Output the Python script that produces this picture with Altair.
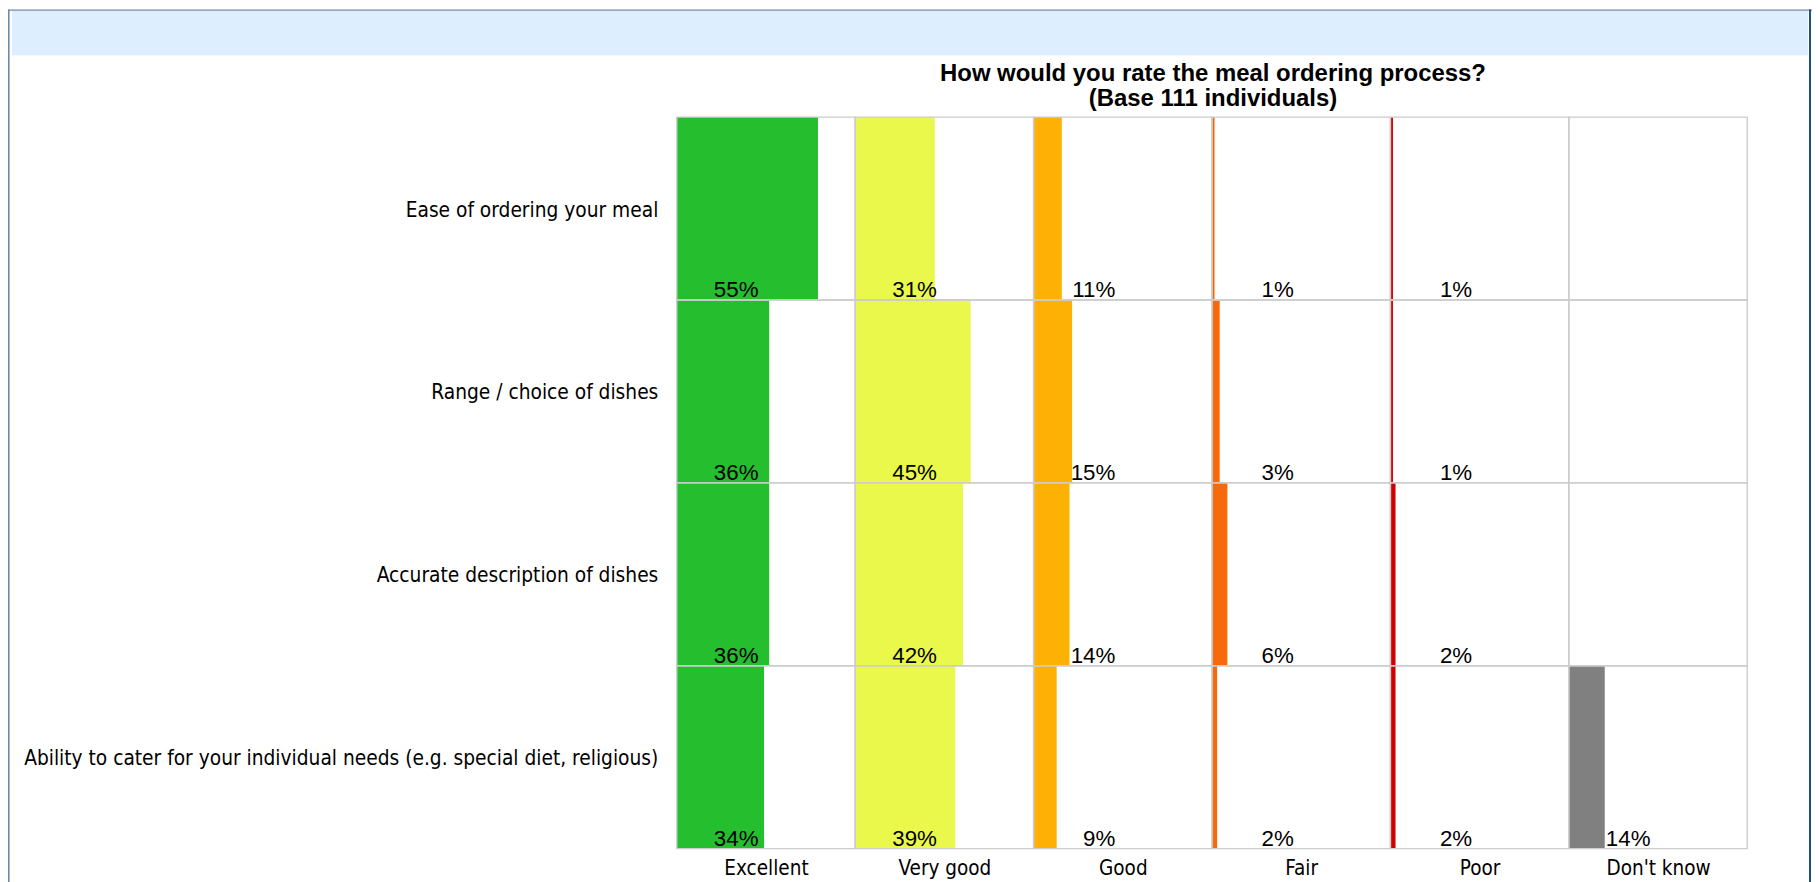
import altair as alt
import pandas as pd

# ---- data ----
ratings = ["Excellent", "Very good", "Good", "Fair", "Poor", "Don't know"]
items = [
    "Ease of ordering your meal",
    "Range / choice of dishes",
    "Accurate description of dishes",
    "Ability to cater for your individual needs (e.g. special diet, religious)",
]
excellent = [55, 36, 36, 34]
very_good = [31, 45, 42, 39]
good = [11, 15, 14, 9]
fair = [1, 3, 6, 2]
poor = [1, 1, 2, 2]
dont_know = [None, None, None, 14]
series = [excellent, very_good, good, fair, poor, dont_know]
colors = ["#24BE2E", "#E9F84A", "#FDB104", "#F8690A", "#D00000", "#808080"]

title_lines = ["How would you rate the meal ordering process?", "(Base 111 individuals)"]

# ---- layout constants ----
COL_MAX = 69.5          # value span of each rating column
PLOT_W, PLOT_H = 1074, 734
SHIFT = 2
PAD = {"left": 669 + SHIFT, "top": 108, "right": 67 - SHIFT, "bottom": 32}

rows = []
for ci, (r, vals) in enumerate(zip(ratings, series)):
    for item, v in zip(items, vals):
        rows.append({"item": item, "rating": r, "col": ci, "value": v,
                     "x0": ci * COL_MAX, "x1": ci * COL_MAX + (v if v is not None else 0),
                     "xend": (ci + 1) * COL_MAX})
df = pd.DataFrame(rows)
bars = df[df["value"].notna()].copy()
bars["label"] = bars["value"].astype(int).astype(str) + "%"

x_scale = alt.Scale(domain=[0, COL_MAX * len(ratings)], nice=False, zero=True)
y_scale = alt.Scale(domain=items, paddingInner=0, paddingOuter=0)

label_expr = "[" + ",".join("'" + r.replace("'", "\\'") + "'" for r in ratings) + "]" \
    + f"[round((datum.value - {COL_MAX/2}) / {COL_MAX})]"

x_axis = alt.Axis(values=[i * COL_MAX + COL_MAX / 2 for i in range(len(ratings))],
                  labelExpr=label_expr, title=None, grid=False, ticks=False, domain=False,
                  labelFont="DejaVu Sans Condensed", labelFontSize=20.6, labelColor="#000000",
                  labelBaseline="middle", labelPadding=20, labelFlush=False)
y_axis = alt.Axis(title=None, grid=False, ticks=False, domain=False,
                  labelFont="DejaVu Sans Condensed", labelFontSize=20.8, labelColor="#000000",
                  labelPadding=19, labelLimit=0, labelOffset=2)

base = alt.Chart(bars)

bar_layer = base.mark_rect().encode(
    x=alt.X("x0:Q", scale=x_scale, axis=x_axis),
    x2="x1:Q",
    y=alt.Y("item:N", scale=y_scale, axis=y_axis, sort=items),
    color=alt.Color("rating:N", scale=alt.Scale(domain=ratings, range=colors), legend=None),
)

grid_layer = alt.Chart(df).mark_rect(fillOpacity=0, stroke="#CCCCCC", strokeWidth=1.4).encode(
    x=alt.X("x0:Q", scale=x_scale),
    x2="xend:Q",
    y=alt.Y("item:N", scale=y_scale, sort=items),
)

text_layer = base.mark_text(align="right", baseline="alphabetic", dx=82, dy=-3,
                            font="Liberation Sans", fontSize=22.4, color="#000000").encode(
    x=alt.X("x0:Q", scale=x_scale),
    y=alt.Y("item:N", scale=y_scale, sort=items, bandPosition=1),
    text="label:N",
)

one = pd.DataFrame({"k": [0]})
# page-frame decorations (positions relative to plot origin)
band = alt.Chart(one).mark_rect(color="#DDEEFF").encode(
    x=alt.value(-665 - SHIFT), x2=alt.value(1137 - SHIFT), y=alt.value(-106.5), y2=alt.value(-62))
top_line = alt.Chart(one).mark_rect(color="#6F89AA").encode(
    x=alt.value(-669 - SHIFT), x2=alt.value(1141 - SHIFT), y=alt.value(-108), y2=alt.value(-106.6))
left_line = alt.Chart(one).mark_rect(color="#6F89AA").encode(
    x=alt.value(-669 - SHIFT), x2=alt.value(-667.4 - SHIFT), y=alt.value(-108), y2=alt.value(780))
right_line = alt.Chart(one).mark_rect(color="#1E4D8C").encode(
    x=alt.value(1138 - SHIFT), x2=alt.value(1140 - SHIFT), y=alt.value(-108), y2=alt.value(780))

title_1 = alt.Chart(one).mark_text(font="Liberation Sans", fontSize=24, fontWeight="bold",
                                   color="#000000", align="center", baseline="alphabetic").encode(
    x=alt.value(PLOT_W / 2 + 1), y=alt.value(-36), text=alt.value(title_lines[0]))
title_2 = alt.Chart(one).mark_text(font="Liberation Sans", fontSize=24, fontWeight="bold",
                                   color="#000000", align="center", baseline="alphabetic").encode(
    x=alt.value(PLOT_W / 2 + 1), y=alt.value(-11), text=alt.value(title_lines[1]))

chart = alt.layer(band, top_line, left_line, right_line, title_1, title_2,
                  bar_layer, grid_layer, text_layer).properties(
    width=PLOT_W, height=PLOT_H,
    padding=PAD,
    autosize=alt.AutoSizeParams(type="none"),
    background="white",
).configure_view(stroke=None)

chart.save("out.html", embed_options={"renderer": "svg", "actions": False})
